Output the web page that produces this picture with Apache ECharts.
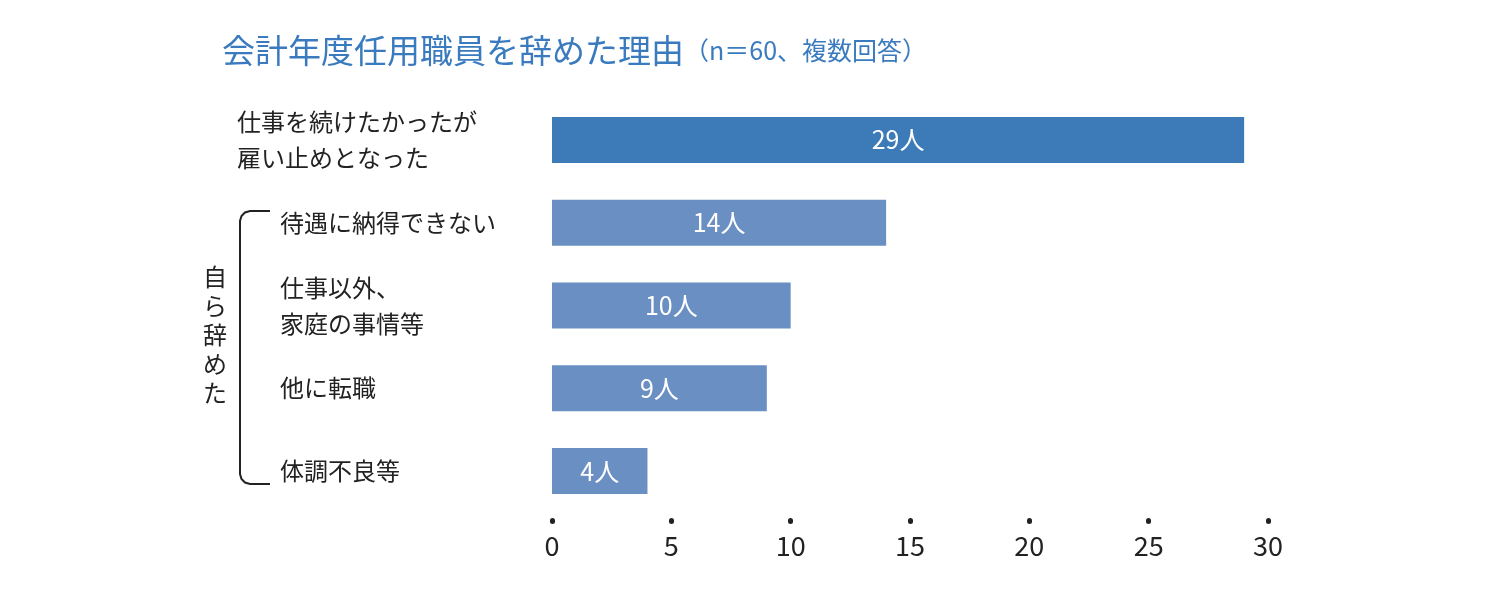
<!DOCTYPE html><html><head><meta charset="utf-8">
<script src="https://cdn.jsdelivr.net/npm/echarts@6/dist/echarts.min.js"></script>
<style>html,body{margin:0;background:#fff}#c{width:1500px;height:600px}</style></head><body><div id="c"></div>
<script>
const categories=['仕事を続けたかったが\n雇い止めとなった','待遇に納得できない','仕事以外、\n家庭の事情等','他に転職','体調不良等'];
const values=[29,14,10,9,4];
const xTicks=[0,5,10,15,20,25,30];
const F='"Noto Sans CJK JP","Noto Sans",sans-serif';
const chart=echarts.init(document.getElementById('c'));
chart.setOption({
 grid:{left:552,right:232,top:98.5,bottom:87.5},
 xAxis:{type:'value',min:0,max:30,interval:5,offset:8,
  axisLine:{show:false},splitLine:{show:false},
  axisTick:{show:true,length:1,lineStyle:{color:'#222',width:5,cap:'round'}},
  axisLabel:{color:'#222',fontSize:27,fontFamily:F,margin:12}},
 yAxis:{type:'category',inverse:true,data:categories,
  axisLine:{show:false},axisTick:{show:false},
  axisLabel:{align:'left',margin:315,color:'#222',fontFamily:F,fontSize:24,lineHeight:36,
   formatter:(v,i)=>i===0?v.split('\n').map(s=>'{a|'+s+'}').join('\n'):v.split('\n').map(s=>'{b|'+s+'}').join('\n'),
   rich:{a:{fontSize:24,lineHeight:36,fontFamily:F,color:'#222'},b:{fontSize:24,lineHeight:36,fontFamily:F,color:'#222',padding:[0,0,0,43]}}}},
 series:[{type:'bar',barWidth:46,
  data:values.map((v,i)=>({value:v,itemStyle:{color:i===0?'#3d7ab8':'#6a8fc2'}})),
  label:{show:true,position:'inside',color:'#fff',fontSize:25,fontFamily:F,formatter:p=>p.value+'人'}}],
 graphic:[
  {type:'text',x:222,y:34,style:{rich:{t:{fontSize:33,fontFamily:F,fill:'#3a7bbf'},s:{fontSize:25,fontFamily:F,fill:'#3a7bbf'}},text:'{t|会計年度任用職員を辞めた理由}{s|（n＝60、複数回答）}'}},
  {type:'polyline',shape:{points:[[270,211],[250,211],[245,212.5],[241.5,216],[240,221],[240,474],[241.5,479],[245,482.5],[250,484],[270,484]]},style:{stroke:'#222',lineWidth:2,fill:null}},
  {type:'text',x:203,y:262,style:{text:'自\nら\n辞\nめ\nた',fontSize:24,lineHeight:29,fontFamily:F,fill:'#222'}}
 ]
});
</script></body></html>
